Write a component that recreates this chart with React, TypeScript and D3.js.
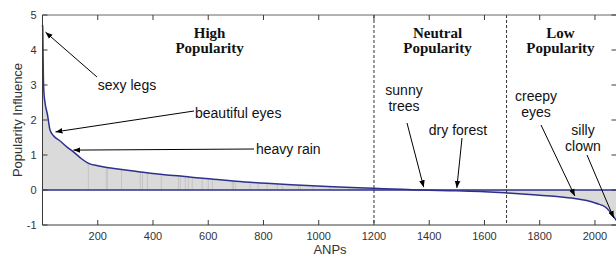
import React from 'react';
import * as d3 from 'd3';

// sorted popularity influence per ANP (knots)
const anpIndex = [0, 1, 2, 3, 5, 10, 18, 22, 27, 40, 64, 90, 112, 140, 165, 200, 233, 280, 329, 400, 450, 500, 570, 642, 700, 811, 900, 1052, 1196, 1300, 1365, 1400, 1498, 1600, 1673, 1750, 1799, 1870, 1926, 1970, 2004, 2040, 2064, 2080];
const influence = [4.72, 4.6, 3.9, 3.3, 2.8, 2.45, 2.15, 1.95, 1.72, 1.55, 1.4, 1.22, 1.09, 0.9, 0.77, 0.69, 0.64, 0.59, 0.54, 0.47, 0.43, 0.4, 0.34, 0.29, 0.25, 0.19, 0.15, 0.09, 0.05, 0.02, 0.0, -0.005, -0.025, -0.05, -0.08, -0.12, -0.15, -0.19, -0.24, -0.3, -0.38, -0.5, -0.72, -0.9];

// a few stems that show darker in the filled area
const darkStems = [166, 231, 235, 286, 354, 362, 380, 430, 492, 499, 517, 528, 542, 578, 600, 615, 687, 691, 698, 752, 781, 813, 850, 868, 926, 933, 980, 1040, 1110];

const xTicks = [200, 400, 600, 800, 1000, 1200, 1400, 1600, 1800, 2000];
const yTicks = [-1, 0, 1, 2, 3, 4, 5];
const splits = [1200, 1680];

const regions = [
  { lines: ['High', 'Popularity'], at: 605 },
  { lines: ['Neutral', 'Popularity'], at: 1430 },
  { lines: ['Low', 'Popularity'], at: 1875 },
];

const notes = [
  { lines: ['sexy legs'], tx: 127, ty: 85, anchor: 'middle', from: [97, 77], tip: [11, 4.51] },
  { lines: ['beautiful eyes'], tx: 195, ty: 113, anchor: 'start', from: [194, 111], tip: [47, 1.66] },
  { lines: ['heavy rain'], tx: 256, ty: 149, anchor: 'start', from: [254, 149], tip: [112, 1.14] },
  { lines: ['sunny', 'trees'], tx: 404, ty: 90, anchor: 'middle', from: [407, 123], tip: [1380, 0.08] },
  { lines: ['dry forest'], tx: 458, ty: 130, anchor: 'middle', from: [462, 138], tip: [1500, 0.06] },
  { lines: ['creepy', 'eyes'], tx: 536, ty: 96, anchor: 'middle', from: [541, 125], tip: [1927, -0.17] },
  { lines: ['silly', 'clown'], tx: 583, ty: 130, anchor: 'middle', from: [587, 155], tip: [2068, -0.8] },
];

const W = 616;
const H = 257;
const sans = 'Liberation Sans, Arial, Helvetica, sans-serif';
const navy = '#2f2f8e';
const axisCol = '#3a3a3a';

const App = () => {
  const x = d3.scaleLinear().domain([0, 2078]).range([42.5, 616.5]);
  const y = d3.scaleLinear().domain([-1, 5]).range([225, 15]);
  const pts = anpIndex.map((d, i) => [d, influence[i]] as [number, number]);

  const line = d3.line<[number, number]>().x(d => x(d[0])).y(d => y(d[1])).curve(d3.curveMonotoneX);
  const area = d3.area<[number, number]>().x(d => x(d[0])).y0(y(0)).y1(d => y(d[1])).curve(d3.curveMonotoneX);
  const valueAt = d3.scaleLinear().domain(anpIndex).range(influence);

  const [x0, x1] = x.range();
  const [yb, yt] = y.range();

  return (
    <svg width={W} height={H} style={{ position: 'absolute', left: 0, top: 0 }}>
      <defs>
        <marker id="ah" viewBox="0 0 10 10" refX="10" refY="5" markerWidth="7" markerHeight="7" orient="auto" markerUnits="userSpaceOnUse">
          <path d="M0,1 L10,5 L0,9 Z" fill="#000" />
        </marker>
      </defs>
      <rect width={W} height={H} fill="#fff" />

      <path d={area(pts) || ''} fill="#dadada" />
      {darkStems.map(s => (
        <line key={s} x1={x(s)} x2={x(s)} y1={y(0)} y2={y(valueAt(s))} stroke="#c4c4c4" strokeWidth={1} />
      ))}
      <line x1={x0} x2={x1} y1={y(0)} y2={y(0)} stroke={navy} strokeWidth={1.5} />
      <path d={line(pts) || ''} fill="none" stroke={navy} strokeWidth={1.5} />

      {splits.map(s => (
        <line key={s} x1={x(s)} x2={x(s)} y1={yt} y2={yb} stroke="#333" strokeWidth={1} strokeDasharray="3,2" />
      ))}

      {/* box and ticks */}
      <line x1={x0} x2={x1} y1={yt} y2={yt} stroke="#666" strokeWidth={1} />
      <line x1={x0} x2={x1} y1={yb} y2={yb} stroke={axisCol} strokeWidth={1} />
      <line x1={x0} x2={x0} y1={yt} y2={yb} stroke={axisCol} strokeWidth={1} />
      <line x1={x1} x2={x1} y1={yt} y2={yb} stroke={axisCol} strokeWidth={1} />
      {xTicks.map(t => (
        <g key={t}>
          <line x1={x(t)} x2={x(t)} y1={yb} y2={yb - 5} stroke={axisCol} />
          <line x1={x(t)} x2={x(t)} y1={yt} y2={yt + 5} stroke={axisCol} />
          <text x={x(t)} y={yb + 15} textAnchor="middle" fontFamily={sans} fontSize={11} fill="#333">{t}</text>
        </g>
      ))}
      {yTicks.map(t => (
        <g key={t}>
          <line x1={x0} x2={x0 + 5} y1={y(t)} y2={y(t)} stroke={axisCol} />
          <line x1={x1} x2={x1 - 5} y1={y(t)} y2={y(t)} stroke={axisCol} />
          <text x={x0 - 6} y={y(t) + 4} textAnchor="end" fontFamily={sans} fontSize={11} fill="#333">{t}</text>
        </g>
      ))}
      <text x={330} y={254} textAnchor="middle" fontFamily={sans} fontSize={13} fill="#333">ANPs</text>
      <text transform={`translate(22,${(yt + yb) / 2}) rotate(-90)`} textAnchor="middle" fontFamily={sans} fontSize={13} fill="#333">Popularity Influence</text>

      {regions.map(r => (
        <text key={r.lines[0]} x={x(r.at)} y={38} textAnchor="middle" fontFamily="Liberation Serif, Times New Roman, serif" fontWeight="bold" fontSize={15} fill="#111">
          {r.lines.map((l, i) => (
            <tspan key={l} x={x(r.at)} dy={i === 0 ? 0 : 15}>{l}</tspan>
          ))}
        </text>
      ))}

      {notes.map(n => (
        <g key={n.lines[0]}>
          <text x={n.tx} y={n.ty + 5} textAnchor={n.anchor as any} fontFamily={sans} fontSize={14} fill="#111">
            {n.lines.map((l, i) => (
              <tspan key={l} x={n.tx} dy={i === 0 ? 0 : 16}>{l}</tspan>
            ))}
          </text>
          <line x1={n.from[0]} y1={n.from[1]} x2={x(n.tip[0])} y2={y(n.tip[1])} stroke="#000" strokeWidth={1} markerEnd="url(#ah)" />
        </g>
      ))}
    </svg>
  );
};

export default App;
